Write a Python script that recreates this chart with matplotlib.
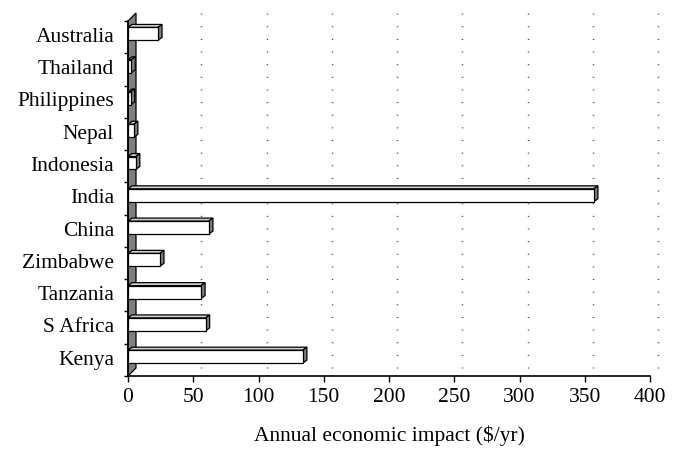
import matplotlib
matplotlib.use("Agg")
import matplotlib.pyplot as plt
from matplotlib.patches import Polygon, Rectangle

countries = ["Kenya", "S Africa", "Tanzania", "Zimbabwe", "China", "India",
             "Indonesia", "Nepal", "Philippines", "Thailand", "Australia"]
impact = [134, 59.5, 56, 24.5, 62, 357, 6, 4.5, 2, 2.5, 23]
xticks = [0, 50, 100, 150, 200, 250, 300, 350, 400]

plt.rcParams["font.family"] = ["Liberation Serif", "DejaVu Serif"]

W, H = 679, 456
fig = plt.figure(figsize=(W / 100, H / 100), dpi=100)
ax = fig.add_axes([128 / W, 79 / H, 522 / W, 355 / H])
ax.set_xlim(0, 400)
ax.set_ylim(-0.5, len(countries) - 0.5)

# pixel -> data unit helpers for the fake 3d depth
px_x = 400 / 522
px_y = len(countries) / 355
wdx, wdy = 8 * px_x, 8 * px_y      # wall / floor depth
bdx, bdy = 4 * px_x, 3 * px_y      # bar depth
shift = 0.1                         # bars sit a bit behind the front plane

top = len(countries) - 0.5
wall = Polygon([(0, -0.5), (0, top), (wdx, top + wdy), (wdx, -0.5 + wdy)],
               closed=True, facecolor="#808080", edgecolor="black", lw=0.9,
               clip_on=False, zorder=1)
ax.add_patch(wall)

for t in xticks[1:]:
    ax.plot([t + wdx, t + wdx], [-0.5 + wdy, top + wdy], color="#333333",
            lw=1, ls=(0, (0.7, 8.4)), clip_on=False, zorder=0.5)

h = 0.4
for i, v in enumerate(impact):
    y0 = i + shift - h / 2
    y1 = y0 + h
    ax.add_patch(Polygon([(0, y1), (v, y1), (v + bdx, y1 + bdy), (bdx, y1 + bdy)],
                         closed=True, facecolor="#d0d0d0", edgecolor="black",
                         lw=0.9, zorder=3))
    ax.add_patch(Polygon([(v, y0), (v, y1), (v + bdx, y1 + bdy), (v + bdx, y0 + bdy)],
                         closed=True, facecolor="#808080", edgecolor="black",
                         lw=0.9, zorder=3))
    ax.add_patch(Rectangle((0, y0), v, h, facecolor="white", edgecolor="black",
                           lw=0.9, zorder=4))

for s in ["top", "right"]:
    ax.spines[s].set_visible(False)
for s in ["left", "bottom"]:
    ax.spines[s].set_linewidth(1.2)
    ax.spines[s].set_zorder(5)

ax.set_yticks([i + shift for i in range(len(countries))])
ax.set_yticklabels(countries)
ax.set_yticks([i - 0.5 for i in range(len(countries) + 1)], minor=True)
ax.tick_params(axis="y", which="major", length=0, pad=10, labelsize=15.5)
ax.tick_params(axis="y", which="minor", length=3, width=1, direction="out")

ax.set_xticks(xticks)
ax.tick_params(axis="x", length=4, width=1, pad=4, labelsize=15.5)
ax.set_xlabel("Annual economic impact ($/yr)", fontsize=15.5, labelpad=13)

fig.savefig("out.png", dpi=100, facecolor="white")
